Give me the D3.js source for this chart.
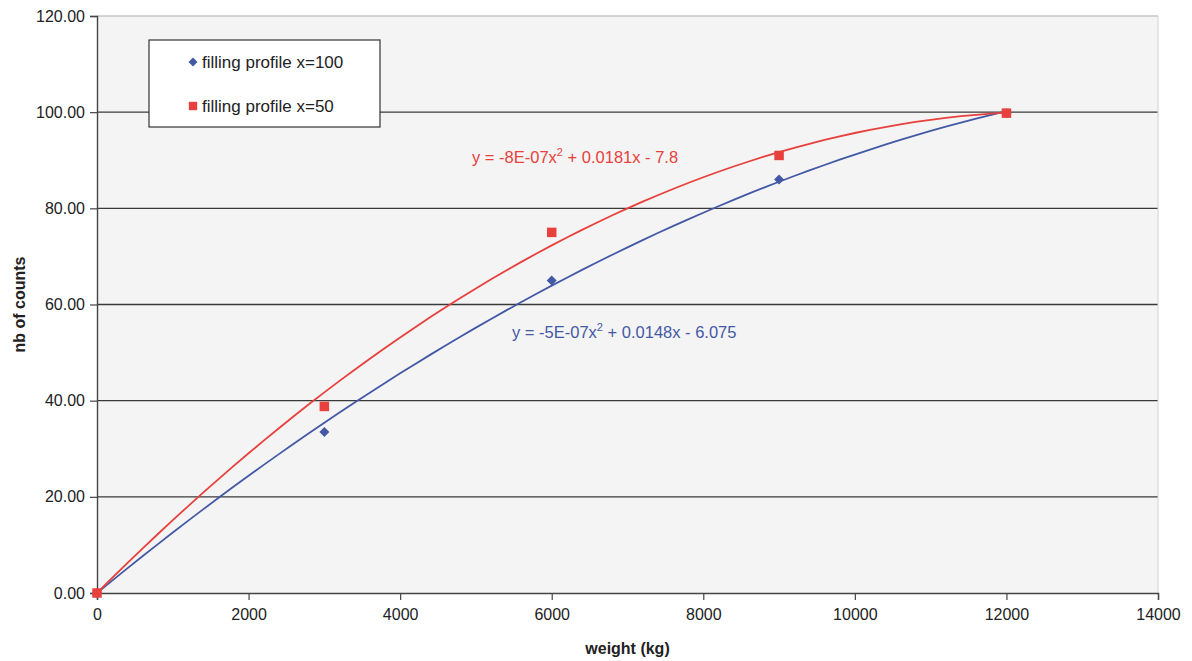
<!DOCTYPE html>
<html>
<head>
<meta charset="utf-8">
<script src="https://cdn.jsdelivr.net/npm/d3@7"></script>
<style>
  body { margin: 0; background: #fff; }
  svg { font-family: "Liberation Sans", Arial, sans-serif; }
</style>
</head>
<body>
<svg id="chart" width="1192" height="661"></svg>
<script>
// data
const weights = [0, 3000, 6000, 9000, 12000];
const counts_x100 = [0, 33.5, 65, 86, 99.8];
const counts_x50 = [0, 38.8, 75, 91, 99.8];
const y_ticks = [0, 20, 40, 60, 80, 100, 120];
const x_ticks = [0, 2000, 4000, 6000, 8000, 10000, 12000, 14000];
const series_names = ['filling profile x=100', 'filling profile x=50'];
const equation_labels = ['y = -5E-07x', 'y = -8E-07x'];
const equation_tails = [' + 0.0148x - 6.075', ' + 0.0181x - 7.8'];

const blueColor = '#4459a6';
const redColor = '#e8403c';

const svg = d3.select('#chart');
const margin = { left: 97, right: 1158, top: 16, bottom: 593 };

const xScale = d3.scaleLinear().domain([0, 14000]).range([margin.left, margin.right]);
const yScale = d3.scaleLinear().domain([0, 120]).range([margin.bottom, margin.top]);

// plot area background
svg.append('rect')
    .attr('x', margin.left).attr('y', margin.top)
    .attr('width', margin.right - margin.left)
    .attr('height', margin.bottom - margin.top)
    .attr('fill', '#f4f4f4');

// gridlines
svg.append('g')
    .selectAll('line')
    .data(y_ticks.filter(d => d > 0))
    .enter()
    .append('line')
    .attr('x1', margin.left).attr('x2', margin.right)
    .attr('y1', d => yScale(d)).attr('y2', d => yScale(d))
    .attr('stroke', d => d === 120 ? '#c4c4c4' : '#3a3a3a')
    .attr('stroke-width', 1.4);

// right border of plot area
svg.append('line')
    .attr('x1', margin.right).attr('x2', margin.right)
    .attr('y1', margin.top).attr('y2', margin.bottom)
    .attr('stroke', '#d4d4d4');

// axes
const yAxis = svg.append('g')
    .attr('transform', `translate(${margin.left},0)`)
    .call(d3.axisLeft(yScale).tickValues(y_ticks).tickFormat(d3.format('.2f')).tickSize(7).tickPadding(5));
const xAxis = svg.append('g')
    .attr('transform', `translate(0,${margin.bottom})`)
    .call(d3.axisBottom(xScale).tickValues(x_ticks).tickFormat(d => d).tickSize(7).tickPadding(9));

[xAxis, yAxis].forEach(ax => {
    ax.select('.domain').attr('stroke', '#444').attr('stroke-width', 1.4);
    ax.selectAll('.tick line').attr('stroke', '#444').attr('stroke-width', 1.2);
    ax.selectAll('.tick text')
        .attr('font-size', 16)
        .attr('fill', '#222')
        .style('font-family', '"Liberation Sans", Arial, sans-serif');
});

// axis titles
svg.append('text')
    .attr('x', (margin.left + margin.right) / 2)
    .attr('y', 654)
    .attr('text-anchor', 'middle')
    .attr('font-size', 16)
    .attr('font-weight', 'bold')
    .attr('fill', '#222')
    .text('weight (kg)');
svg.append('text')
    .attr('transform', `translate(25, ${(margin.top + margin.bottom) / 2}) rotate(-90)`)
    .attr('text-anchor', 'middle')
    .attr('font-size', 16)
    .attr('font-weight', 'bold')
    .attr('fill', '#222')
    .text('nb of counts');

// least squares quadratic through the origin: y = a x + b x^2
function fitQuadratic(xs, ys) {
    let s2 = 0, s3 = 0, s4 = 0, sxy = 0, sx2y = 0;
    for (let i = 0; i < xs.length; i++) {
        const x = xs[i], y = ys[i];
        s2 += x * x; s3 += x ** 3; s4 += x ** 4;
        sxy += x * y; sx2y += x * x * y;
    }
    const det = s2 * s4 - s3 * s3;
    const a = (sxy * s4 - s3 * sx2y) / det;
    const b = (s2 * sx2y - s3 * sxy) / det;
    return x => a * x + b * x * x;
}

const series = [
    { values: counts_x100, color: blueColor, diamond: true },
    { values: counts_x50, color: redColor, diamond: false }
];

const line = d3.line().x(d => xScale(d[0])).y(d => yScale(d[1]));

series.forEach(s => {
    const f = fitQuadratic(weights, s.values);
    const xs = d3.range(0, 12000 + 1, 200);
    svg.append('path')
        .datum(xs.map(x => [x, f(x)]))
        .attr('d', line)
        .attr('fill', 'none')
        .attr('stroke', s.color)
        .attr('stroke-width', 1.8);
});

series.forEach(s => {
    svg.append('g')
        .selectAll('path')
        .data(weights.map((w, i) => [w, s.values[i]]))
        .enter()
        .append('path')
        .attr('d', d3.symbol().type(d3.symbolSquare).size(s.diamond ? 50 : 90))
        .attr('transform', d => `translate(${xScale(d[0])},${yScale(d[1])})` + (s.diamond ? ' rotate(45)' : ''))
        .attr('fill', s.color);
});

// equation labels
const eqPos = [[512, 338], [472, 163]];
series.forEach((s, i) => {
    const t = svg.append('text')
        .attr('x', eqPos[i][0]).attr('y', eqPos[i][1])
        .attr('font-size', 16.5)
        .attr('fill', s.color);
    t.append('tspan').text(equation_labels[i]);
    t.append('tspan').attr('dy', -7).attr('font-size', 11).text('2');
    t.append('tspan').attr('dy', 7).text(equation_tails[i]);
});

// legend
const legend = svg.append('g');
legend.append('rect')
    .attr('x', 149).attr('y', 40)
    .attr('width', 231).attr('height', 87)
    .attr('fill', '#fff')
    .attr('stroke', '#333')
    .attr('stroke-width', 1.2);
series.forEach((s, i) => {
    const cy = 62 + i * 44;
    legend.append('path')
        .attr('d', d3.symbol().type(d3.symbolSquare).size(s.diamond ? 40 : 70))
        .attr('transform', `translate(193,${cy})` + (s.diamond ? ' rotate(45)' : ''))
        .attr('fill', s.color);
    legend.append('text')
        .attr('x', 202).attr('y', cy + 6)
        .attr('font-size', 17)
        .attr('fill', '#222')
        .text(series_names[i]);
});
</script>
</body>
</html>
